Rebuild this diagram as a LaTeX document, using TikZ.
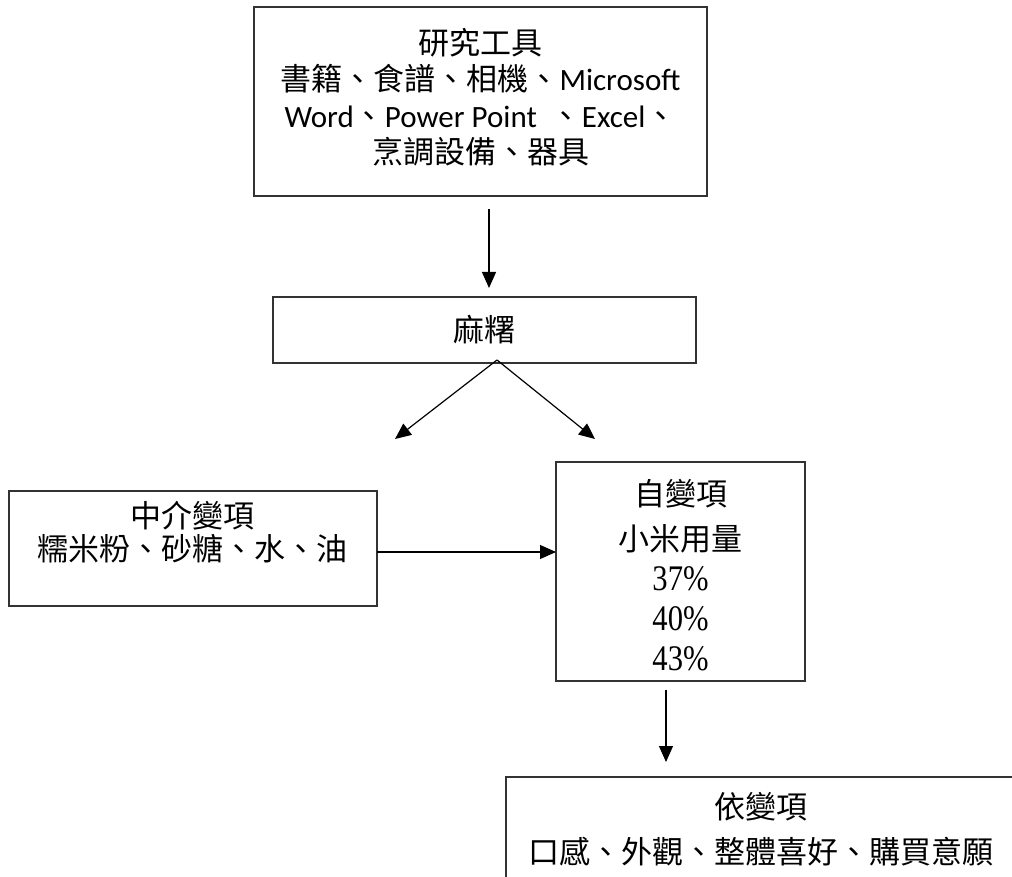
\documentclass[tikz,border=0pt]{standalone}
\usepackage{fontspec}
\setmainfont{Noto Sans CJK TC}
\newfontfamily\lat{Carlito}
\newfontfamily\tnr{Liberation Serif}[FakeStretch=0.85]
\usetikzlibrary{arrows.meta}
\newcommand\mybox[4]{\parbox[c][#2][t]{#1}{\centering\vspace*{#3}#4\par}}
\newcommand\pct[1]{{\tnr\fontsize{36}{40}\selectfont #1}}
\begin{document}
\begin{tikzpicture}[x=1pt,y=-1pt,
  box/.style={draw=black!80,line width=1.3pt,inner sep=0pt,outer sep=0pt},
  arr/.style={line width=1.2pt,-{Triangle[length=16pt,width=14pt]}}]
\clip (0,0) rectangle (1012,877);
\node[box] (top) at (480.5,101.5) {\mybox{453pt}{189pt}{21.5pt}{\fontsize{31}{36.3}\selectfont
  研究工具\\書籍、食譜、相機、{\lat Microsoft}\\{\lat Word}、{\lat Power Point\ \ }、{\lat Excel}、\\烹調設備、器具}};
\node[box] (mochi) at (484.5,330) {\mybox{423pt}{66pt}{18pt}{\fontsize{31}{36}\selectfont 麻糬}};
\node[box] (mid) at (193,548.5) {\mybox{368pt}{115pt}{10pt}{\fontsize{31}{33}\selectfont 中介變項\\糯米粉、砂糖、水、油}};
\node[box] (ind) at (680.5,571.5) {\mybox{249pt}{219pt}{17pt}{\fontsize{31}{40}\selectfont
  自變項\\[5pt]小米用量\\\pct{37\%}\\\pct{40\%}\\\pct{43\%}}};
\node[box] (dep) at (761,833.5) {\mybox{510pt}{113pt}{15pt}{\fontsize{31}{45}\selectfont 依變項\\口感、外觀、整體喜好、購買意願}};
\coordinate (dl) at (395,439);
\coordinate (dr) at (595,439);
\draw[arr] ([xshift=8.5pt,yshift=-13pt]top.south) -- ([xshift=4.5pt,yshift=9pt]mochi.north);
\draw[arr] ([xshift=12.5pt,yshift=3pt]mochi.south) -- (dl);
\draw[arr] ([xshift=12.5pt,yshift=3pt]mochi.south) -- (dr);
\draw[arr] (mid.east |- 0,552) -- (ind.west |- 0,552);
\draw[arr] ([xshift=-14.5pt,yshift=-9pt]ind.south) -- ([xshift=-95pt,yshift=15pt]dep.north);
\end{tikzpicture}
\end{document}
